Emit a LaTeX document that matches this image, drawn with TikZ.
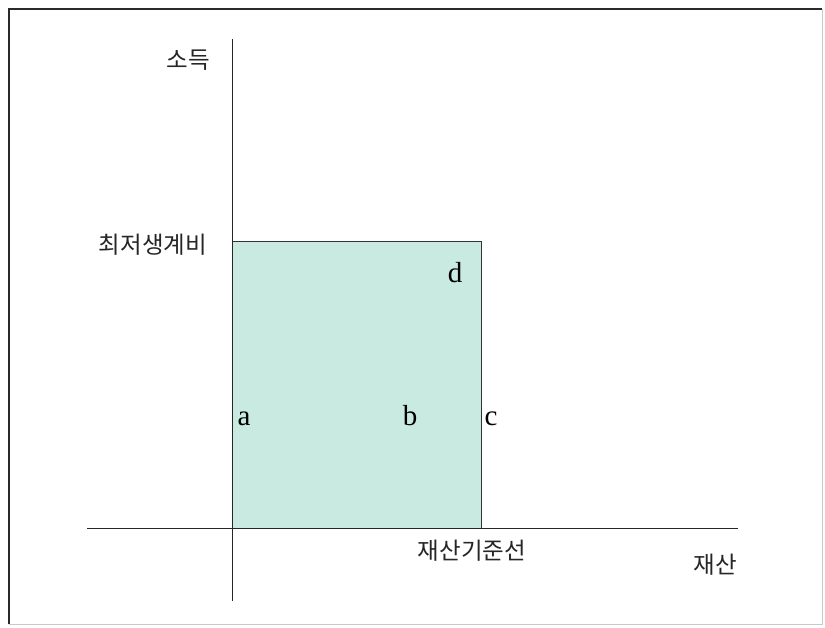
\documentclass[tikz,border=0pt]{standalone}
\usepackage{fontspec}
\setmainfont{Liberation Serif}
\newfontfamily\kr{Noto Sans CJK KR}
\definecolor{mint}{HTML}{C8EAE0}
\definecolor{frameA}{HTML}{2A2A2A}
\definecolor{frameB}{HTML}{C8C8C8}
\tikzset{
  axis/.style={draw=black!85, line width=1pt},
  krlabel/.style={font=\kr\fontsize{23.5}{26}\selectfont, text=black!85, inner sep=0pt},
  letter/.style={font=\fontsize{29}{32}\selectfont, inner sep=0pt, anchor=base},
}
\begin{document}
\begin{tikzpicture}[x=1pt,y=-1pt]
\useasboundingbox (0,0) rectangle (825,628);
\fill[white] (0,0) rectangle (825,628);
% frame
\draw[frameB, line width=1pt] (822,9) -- (822,624) -- (9,624);
\draw[frameA, line width=1.6pt] (9,624) -- (9,9) -- (822,9);
% coordinates
\coordinate (ytop) at (232,39);
\coordinate (ybot) at (232,601);
\coordinate (xleft) at (87,528.5);
\coordinate (xright) at (738,528.5);
\coordinate (o) at (232,528.5);
\coordinate (rtl) at (232,241);
\coordinate (rtr) at (481,241);
\coordinate (rbr) at (481,528.5);
% region
\fill[mint] (o) rectangle (rtr);
\draw[black!80, line width=0.9pt] (o) -- (rtl) -- (rtr) -- (rbr);
% axes
\draw[axis] (ytop) -- (ybot);
\draw[axis] (xleft) -- (xright);
% labels
\node[krlabel] (income) at (188,60) {소득};
\node[krlabel] (minliving) at (153,245) {최저생계비};
\node[krlabel] (assetline) at (472,551) {재산기준선};
\node[krlabel] (asset) at (715,565) {재산};
\node[letter] (a) at (244,425) {a};
\node[letter] (b) at (410,425) {b};
\node[letter] (c) at (491,425) {c};
\node[letter] (d) at (455,283) {d};
\end{tikzpicture}
\end{document}
